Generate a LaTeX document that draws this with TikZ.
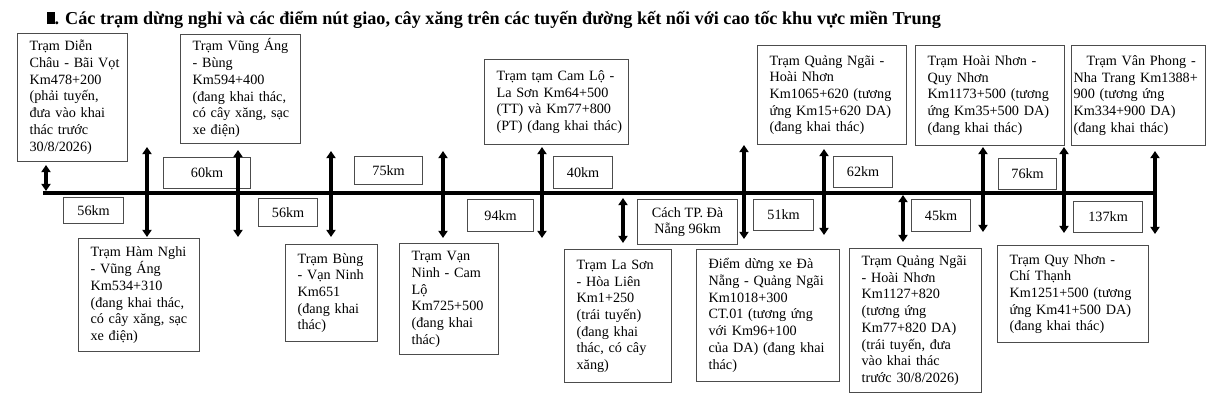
\documentclass[tikz,border=0pt]{standalone}
\usepackage{fontspec}
\setmainfont{Liberation Serif}
\usetikzlibrary{arrows.meta}

% keeps each given line on one line
\newcommand{\boxlines}[1]{\begin{tabular}{@{}l@{}}#1\end{tabular}}

\begin{document}
\begin{tikzpicture}[x=0.5pt, y=-0.5pt,
			every node/.style={font=\fontsize{7.1}{8.35}\selectfont},
			stop/.style={draw=black!70, line width=0.6pt, anchor=north west, align=left, inner xsep=6pt, inner ysep=2pt},
			dist/.style={draw=black!70, line width=0.6pt, anchor=north west, align=center, inner sep=0pt},
			road/.style={line width=1.9pt},
			post/.style={line width=1.8pt, {Triangle[width=4.6pt,length=3.6pt]}-{Triangle[width=4.6pt,length=3.6pt]}}
			]
			\useasboundingbox (0,0) rectangle (1210,409);
			
			% Title
			\node[anchor=base west, inner sep=0pt, font=\fontsize{9.1}{11}\selectfont\bfseries] (title) at (47,24)
			{\rule{3.6pt}{6pt}. Các trạm dừng nghỉ và các điểm nút giao, cây xăng trên các tuyến đường kết nối với cao tốc khu vực miền Trung};
			
			% Stations above the road
			\node[stop, text width=43pt, minimum height=64pt] (dienchau) at (17,33)
			{\boxlines{Trạm Diễn\\Châu - Bãi Vọt\\Km478+200\\(phải tuyến,\\đưa vào khai\\thác trước\\30/8/2026)}};
			\node[stop, text width=48pt, minimum height=54.5pt] (vungang) at (180,34)
			{\boxlines{Trạm Vũng Áng\\- Bùng\\Km594+400\\(đang khai thác,\\có cây xăng, sạc\\xe điện)}};
			\node[stop, text width=60pt, minimum height=42.5pt] (camlo) at (484,59)
			{\boxlines{Trạm tạm Cam Lộ -\\La Sơn Km64+500\\(TT) và Km77+800\\(PT) (đang khai thác)}};
			\node[stop, text width=62.5pt, minimum height=49.5pt] (qnghn) at (757,45)
			{\boxlines{Trạm Quảng Ngãi -\\Hoài Nhơn\\Km1065+620 (tương\\ứng Km15+620 DA)\\(đang khai thác)}};
			\node[stop, text width=62.5pt, minimum height=50pt] (hnqn) at (915,45)
			{\boxlines{Trạm Hoài Nhơn -\\Quy Nhơn\\Km1173+500 (tương\\ứng Km35+500 DA)\\(đang khai thác)}};
			\node[stop, inner xsep=1pt, text width=65pt, minimum height=50pt] (vanphong) at (1071,45)
			{\boxlines{\hspace*{6.5pt}Trạm Vân Phong -\\Nha Trang Km1388+\\900 (tương ứng\\Km334+900 DA)\\(đang khai thác)}};
			
			% Stations below the road
			\node[stop, text width=48.5pt, minimum height=56.5pt] (hamnghi) at (78,238)
			{\boxlines{Trạm Hàm Nghi\\- Vũng Áng\\Km534+310\\(đang khai thác,\\có cây xăng, sạc\\xe điện)}};
			\node[stop, text width=34pt, minimum height=48.5pt] (bung) at (285,244)
			{\boxlines{Trạm Bùng\\- Vạn Ninh\\Km651\\(đang khai\\thác)}};
			\node[stop, text width=37.5pt, minimum height=55.5pt] (vanninh) at (399,243)
			{\boxlines{Trạm Vạn\\Ninh - Cam\\Lộ\\Km725+500\\(đang khai\\thác)}};
			\node[stop, text width=41.5pt, minimum height=66.5pt] (lason) at (564,249)
			{\boxlines{Trạm La Sơn\\- Hòa Liên\\Km1+250\\(trái tuyến)\\(đang khai\\thác, có cây\\xăng)}};
			\node[stop, text width=59.5pt, minimum height=66pt] (danang) at (696,249)
			{\boxlines{Điểm dừng xe Đà\\Nẵng - Quảng Ngãi\\Km1018+300\\CT.01 (tương ứng\\với Km96+100\\của DA) (đang khai\\thác)}};
			\node[stop, text width=54pt, minimum height=72pt] (quangngai) at (849,248)
			{\boxlines{Trạm Quảng Ngãi\\- Hoài Nhơn\\Km1127+820\\(tương ứng\\Km77+820 DA)\\(trái tuyến, đưa\\vào khai thác\\trước 30/8/2026)}};
			\node[stop, text width=63.5pt, minimum height=48.5pt] (quynhon) at (997,245)
			{\boxlines{Trạm Quy Nhơn -\\Chí Thạnh\\Km1251+500 (tương\\ứng Km41+500 DA)\\(đang khai thác)}};
			
			% Distances
			\node[dist, minimum width=43.5pt, minimum height=15.5pt] (d60) at (163,157) {60km};
			\node[dist, minimum width=34pt, minimum height=14pt] (d75) at (354,156) {75km};
			\node[dist, minimum width=29.5pt, minimum height=16pt] (d40) at (553,156) {40km};
			\node[dist, minimum width=29.5pt, minimum height=15.5pt] (d62) at (833,156) {62km};
			\node[dist, minimum width=29pt, minimum height=15.5pt] (d76) at (998,158) {76km};
			\node[dist, minimum width=30pt, minimum height=13pt] (d56a) at (63,197) {56km};
			\node[dist, minimum width=29.5pt, minimum height=14pt] (d56b) at (258,198) {56km};
			\node[dist, minimum width=33pt, minimum height=16pt] (d94) at (467,199) {94km};
			\node[dist, minimum width=50pt, minimum height=22.5pt] (d96) at (637,199) {Cách TP. Đà\\Nẵng 96km};
			\node[dist, minimum width=30pt, minimum height=15.5pt] (d51) at (753,199) {51km};
			\node[dist, minimum width=29.5pt, minimum height=16pt] (d45) at (911,199) {45km};
			\node[dist, minimum width=34.5pt, minimum height=15.5pt] (d137) at (1073,201) {137km};
			
			% Road
			\coordinate (west) at (43,193);
			\coordinate (east) at (1157,193);
			\draw[road] (west) -- (east);
			
			% Exits
			\foreach \i/\x/\t/\b in {1/46/165/191, 2/147/147/237, 3/238/150/237, 4/331/151/237,
				5/443/151/238, 6/542/147/238, 7/623/198/243, 8/744/145/239, 9/824/149/235,
				10/903/195/242, 11/983/147/232, 12/1064/147/233, 13/1155/151/234}{
				\coordinate (up\i) at (\x,\t);
				\coordinate (dn\i) at (\x,\b);
				\draw[post] (up\i) -- (dn\i);
			}
			
		\end{tikzpicture}
\end{document}
